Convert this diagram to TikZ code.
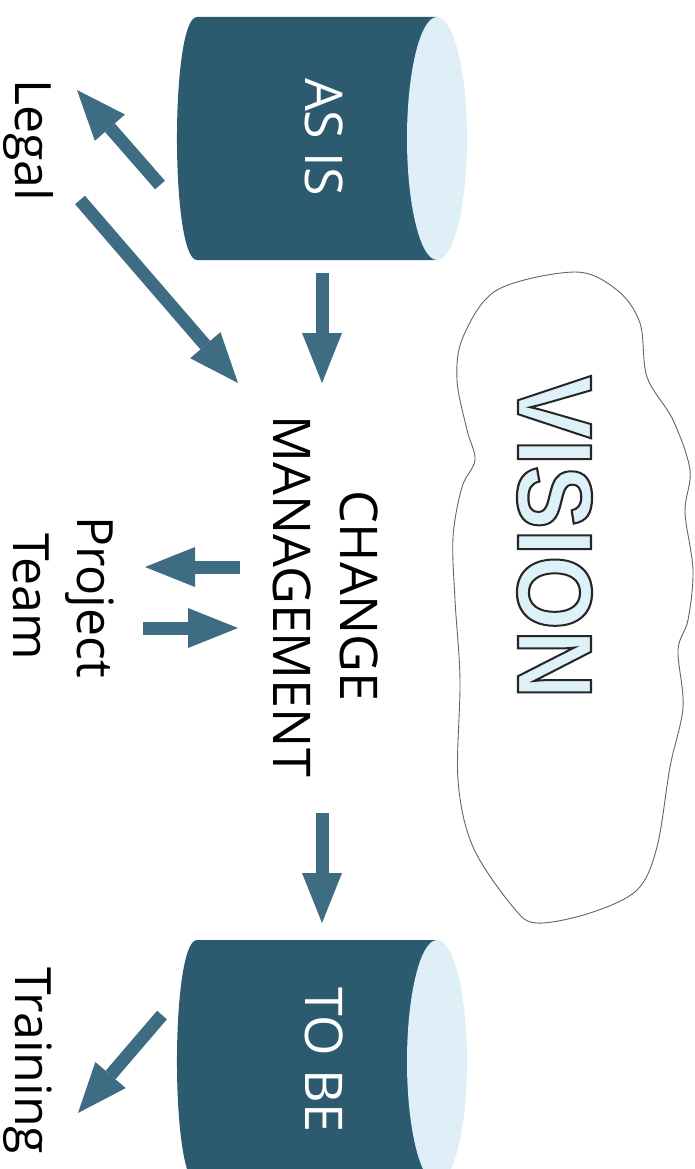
\documentclass[tikz,border=0pt]{standalone}
\usepackage{fontspec}
\setmainfont{Open Sans}
\newfontfamily\visfont{Liberation Sans}
\usetikzlibrary{arrows.meta}
\definecolor{cylblue}{RGB}{44,90,111}
\definecolor{arrowblue}{RGB}{62,108,130}
\definecolor{facelight}{RGB}{222,239,247}
\definecolor{visfill}{RGB}{222,240,248}
\definecolor{cloudline}{RGB}{100,100,100}
\tikzset{
  flow/.style={draw=arrowblue, line width=13pt, -{Triangle[length=50pt,width=40pt,line width=0pt]}},
  lbl/.style={rotate=-90, anchor=base, inner sep=0pt, text=black, font=\fontsize{50}{64}\selectfont},
  cyltext/.style={rotate=-90, anchor=base, inner sep=0pt, text=white, font=\fontsize{52}{60}\selectfont},
  cylbody/.style={fill=cylblue},
  cylface/.style={fill=facelight}
}
\begin{document}
\begin{tikzpicture}[x=1pt,y=-1pt]
\useasboundingbox (0,0) rectangle (695,1169);
% vision cloud
\draw[cloudline, line width=0.9pt] plot[smooth cycle, tension=0.55] coordinates {(575,272) (617,290) (640,323) (647,377) (673,420) (690,470) (685,512) (693,570) (688,620) (678,650) (683,707) (670,767) (657,847) (637,890) (590,913) (537,923) (513,907) (473,847) (458,780) (460,680) (455,600) (453,537) (462,487) (475,460) (467,430) (457,380) (463,337) (497,290)};
\node[rotate=-90, anchor=base, inner sep=0pt, text=visfill] (vision) at (518,537)
  {\visfont\bfseries\fontsize{106}{110}\selectfont\scalebox{0.9}[1]{\special{pdf:literal direct 2 Tr 2.2 w 0.15 0.15 0.15 RG}VISION\special{pdf:literal direct 0 Tr}}};
% AS IS cylinder
\path[cylbody] (197,17) -- (437,17) -- (437,260) -- (197,260) .. controls (170.3,260) and (170.3,17) .. cycle;
\path[cylface] (437,138.5) ellipse [x radius=30, y radius=121.5];
\node[cyltext] (asis) at (305,137) {AS IS};
% TO BE cylinder
\path[cylbody] (197,940) -- (437,940) -- (437,1183) -- (197,1183) .. controls (170.3,1183) and (170.3,940) .. cycle;
\path[cylface] (437,1061.5) ellipse [x radius=30, y radius=121.5];
\node[cyltext] (tobe) at (305,1060) {TO BE};
% labels
\node[rotate=-90, anchor=south, inner sep=0pt, align=center, font=\fontsize{52}{67}\selectfont] (change) at (273,596) {CHANGE\\MANAGEMENT};
\node[lbl, anchor=south, align=center] (project) at (13,597) {Project\\Team};
\node[lbl] (legal) at (15,140) {Legal};
\node[lbl] (training) at (15,1061) {Training};
% connector ends
\coordinate (asis-down) at (322,273);
\coordinate (change-top) at (322,383);
\coordinate (asis-left) at (160,185);
\coordinate (legal-in) at (77,90);
\coordinate (legal-out) at (80,200);
\coordinate (change-left) at (238,383);
\coordinate (change-out) at (240,567);
\coordinate (project-in) at (145,567);
\coordinate (project-out) at (143,628);
\coordinate (change-in) at (238,628);
\coordinate (change-down) at (322,813);
\coordinate (tobe-top) at (322,923);
\coordinate (tobe-left) at (162,1015);
\coordinate (training-in) at (78,1113);
% connectors
\draw[flow] (asis-down) -- (change-top);
\draw[flow] (asis-left) -- (legal-in);
\draw[flow] (legal-out) -- (change-left);
\draw[flow] (change-out) -- (project-in);
\draw[flow] (project-out) -- (change-in);
\draw[flow] (change-down) -- (tobe-top);
\draw[flow] (tobe-left) -- (training-in);
\end{tikzpicture}
\end{document}
